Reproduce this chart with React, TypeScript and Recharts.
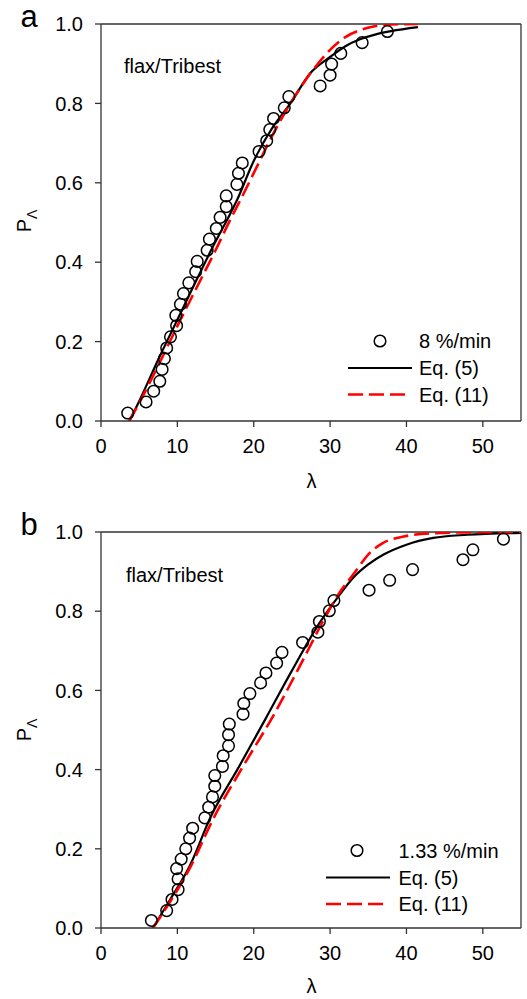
import {
  ComposedChart,
  Scatter,
  Line,
  XAxis,
  YAxis,
  ReferenceLine,
} from 'recharts';

// panel a : 8 %/min
const aLambda = [3.5, 5.9, 6.9, 7.7, 8.0, 8.3, 8.6, 9.1, 9.9, 9.8, 10.4, 10.8, 11.5, 12.4, 12.6, 13.9, 14.2, 15.1, 15.6, 16.4, 16.4, 17.8, 18.0, 18.5, 20.7, 21.7, 22.1, 22.6, 24.0, 24.6, 28.7, 30.0, 30.2, 31.4, 34.2, 37.5];
const aP = [0.020, 0.048, 0.075, 0.100, 0.130, 0.157, 0.184, 0.212, 0.240, 0.266, 0.294, 0.321, 0.348, 0.376, 0.402, 0.430, 0.458, 0.485, 0.513, 0.540, 0.567, 0.596, 0.624, 0.650, 0.679, 0.706, 0.734, 0.762, 0.789, 0.817, 0.844, 0.871, 0.899, 0.926, 0.953, 0.981];
const aEq5X = [3.7, 5, 7.5, 10, 12.5, 15, 16.5, 17.8, 20, 22.5, 24.8, 27.4, 30, 32, 34, 36, 38, 41.5];
const aEq5Y = [0, 0.05, 0.155, 0.255, 0.355, 0.452, 0.506, 0.556, 0.655, 0.74, 0.8, 0.876, 0.917, 0.944, 0.962, 0.974, 0.982, 0.992];
const aEq11X = [3.7, 5, 7.5, 10.15, 12.5, 15, 16.9, 18.24, 20.4, 22.6, 24.8, 27.6, 30, 32, 34, 36, 38, 41.5];
const aEq11Y = [0, 0.045, 0.14, 0.245, 0.335, 0.43, 0.506, 0.556, 0.64, 0.725, 0.8, 0.88, 0.935, 0.967, 0.985, 0.995, 0.999, 1.0];

// panel b : 1.33 %/min
const bLambda = [6.6, 8.6, 9.3, 10.1, 10.1, 9.9, 10.5, 11.1, 11.6, 12.0, 13.6, 14.1, 14.6, 14.9, 14.9, 15.9, 16.0, 16.7, 16.7, 16.8, 18.6, 18.7, 19.5, 20.9, 21.6, 23.0, 23.7, 26.4, 28.4, 28.6, 29.9, 30.5, 35.1, 37.8, 40.8, 47.4, 48.7, 52.7];
const bP = [0.019, 0.044, 0.072, 0.097, 0.124, 0.150, 0.174, 0.200, 0.227, 0.252, 0.278, 0.305, 0.331, 0.358, 0.385, 0.408, 0.435, 0.460, 0.488, 0.515, 0.540, 0.567, 0.592, 0.619, 0.644, 0.669, 0.696, 0.721, 0.747, 0.774, 0.801, 0.827, 0.853, 0.878, 0.905, 0.930, 0.955, 0.982];
const bEq5X = [6.8, 9, 11.6, 14.4, 18, 21.6, 25, 28.6, 31, 33, 35, 37, 40, 43.5, 48, 55];
const bEq5Y = [0, 0.07, 0.156, 0.282, 0.405, 0.53, 0.65, 0.77, 0.835, 0.884, 0.918, 0.943, 0.968, 0.985, 0.993, 0.998];
const bEq11X = [6.8, 9, 11.6, 14.86, 18.5, 22.5, 26, 29.06, 31, 33, 35.4, 36.9, 39.5, 43.5, 48, 55];
const bEq11Y = [0, 0.065, 0.15, 0.282, 0.405, 0.534, 0.66, 0.774, 0.84, 0.892, 0.951, 0.972, 0.988, 0.997, 0.999, 1.0];

const xTicks = [0, 10, 20, 30, 40, 50];
const yTicks = [0, 0.2, 0.4, 0.6, 0.8, 1.0];

const font = '"Liberation Sans", Arial, sans-serif';
const axisColor = '#333';

const zip = (xs: number[], ys: number[]) => xs.map((x, i) => ({ x, y: ys[i] }));

const Circle = (props: any) => (
  <circle cx={props.cx} cy={props.cy} r={5.8} fill="none" stroke="#000" strokeWidth={1.5} />
);

const Panel = ({ height, marginTop, marginBottom, pts, eq5, eq11 }: any) => (
  <ComposedChart
    width={527}
    height={height}
    margin={{ top: marginTop, right: 6, left: 0, bottom: marginBottom }}
  >
    <XAxis
      type="number"
      dataKey="x"
      domain={[0, 55]}
      ticks={xTicks}
      tickSize={6}
      tickMargin={12}
      height={40}
      stroke={axisColor}
      strokeWidth={1.3}
      tick={{ fill: '#000', fontSize: 20, fontFamily: font }}
      allowDataOverflow
    />
    <YAxis
      type="number"
      dataKey="y"
      domain={[0, 1]}
      ticks={yTicks}
      tickFormatter={(v: number) => v.toFixed(1)}
      tickSize={6}
      tickMargin={12}
      width={101}
      stroke={axisColor}
      strokeWidth={1.3}
      tick={{ fill: '#000', fontSize: 20, fontFamily: font }}
      allowDataOverflow
    />
    <ReferenceLine y={1} stroke={axisColor} strokeWidth={1.3} />
    <ReferenceLine x={55} stroke={axisColor} strokeWidth={1.3} />
    <Scatter data={pts} dataKey="y" shape={Circle} isAnimationActive={false} />
    <Line data={eq5} dataKey="y" type="monotone" stroke="#000" strokeWidth={2.2} dot={false} isAnimationActive={false} />
    <Line data={eq11} dataKey="y" type="monotone" stroke="#f00" strokeWidth={2.6} strokeDasharray="15 6" dot={false} isAnimationActive={false} />
  </ComposedChart>
);

const Notes = ({ dy, letter, rate, pY, lamY, flaxX, flaxY, leg }: any) => (
  <g fontFamily={font} fill="#000">
    <text x={29} y={dy} fontSize={31} textAnchor="middle">{letter}</text>
    <text x={flaxX} y={flaxY} fontSize={20}>flax/Tribest</text>
    <text transform={`translate(31, ${pY}) rotate(-90)`} fontSize={20} textAnchor="middle">
      P<tspan dy={6} fontSize={14}>Λ</tspan>
    </text>
    <text x={311.5} y={lamY} fontSize={20} textAnchor="middle">λ</text>
    <circle cx={leg.cx} cy={leg.cy} r={5.8} fill="none" stroke="#000" strokeWidth={1.5} />
    <text x={leg.tx} y={leg.cy + 7} fontSize={20}>{rate}</text>
    <line x1={leg.lx} x2={leg.lx + 64} y1={leg.cy + 27} y2={leg.cy + 27} stroke="#000" strokeWidth={2.2} />
    <text x={leg.tx} y={leg.cy + 34} fontSize={20}>Eq. (5)</text>
    <line x1={leg.lx} x2={leg.lx + 57} y1={leg.cy + 53.5} y2={leg.cy + 53.5} stroke="#f00" strokeWidth={2.6} strokeDasharray="15 6" />
    <text x={leg.tx} y={leg.cy + 60.5} fontSize={20}>Eq. (11)</text>
  </g>
);

export default function App() {
  return (
    <div style={{ position: 'absolute', left: 0, top: 0, width: 527, height: 999, background: '#fff' }}>
      <div style={{ position: 'absolute', left: 0, top: 0 }}>
        <Panel height={490} marginTop={24} marginBottom={29} pts={zip(aLambda, aP)} eq5={zip(aEq5X, aEq5Y)} eq11={zip(aEq11X, aEq11Y)} />
      </div>
      <div style={{ position: 'absolute', left: 0, top: 500 }}>
        <Panel height={499} marginTop={32} marginBottom={31} pts={zip(bLambda, bP)} eq5={zip(bEq5X, bEq5Y)} eq11={zip(bEq11X, bEq11Y)} />
      </div>
      <svg width={527} height={999} style={{ position: 'absolute', left: 0, top: 0, pointerEvents: 'none' }}>
        <Notes dy={27} letter="a" rate="8 %/min" pY={221} lamY={488} flaxX={124} flaxY={73}
          leg={{ cx: 380, cy: 341, tx: 419, lx: 348 }} />
        <Notes dy={535} letter="b" rate="1.33 %/min" pY={730} lamY={993} flaxX={126} flaxY={582}
          leg={{ cx: 357, cy: 850.5, tx: 398.5, lx: 326 }} />
      </svg>
    </div>
  );
}
